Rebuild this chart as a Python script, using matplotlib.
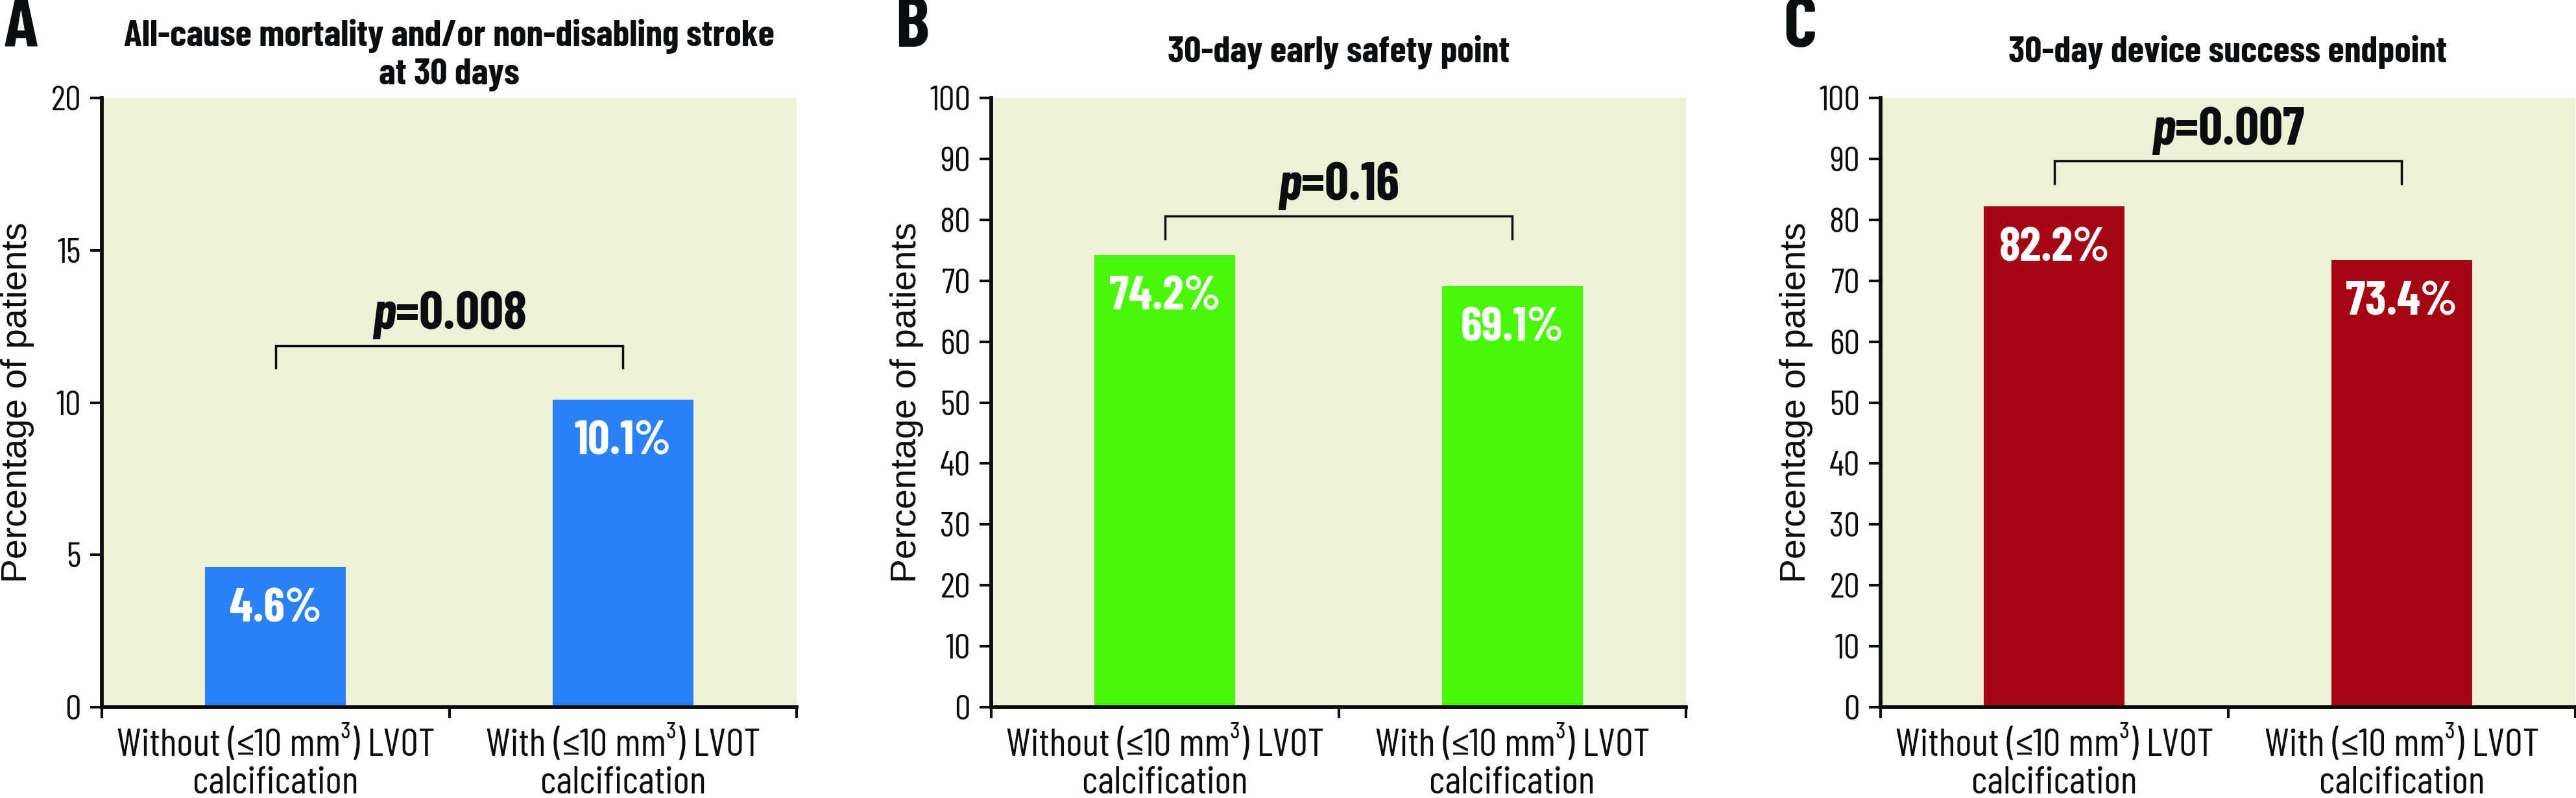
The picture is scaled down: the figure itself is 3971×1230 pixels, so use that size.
import os
import matplotlib
matplotlib.use("Agg")
import matplotlib.pyplot as plt
from matplotlib import font_manager

# ---------------- data ----------------
panel_letters = ["A", "B", "C"]
titles = [
    ["All-cause mortality and/or non-disabling stroke", "at 30 days"],
    ["30-day early safety point"],
    ["30-day device success endpoint"],
]
categories = ["Without (\u226410 mm\u00b3) LVOT\ncalcification",
              "With (\u226410 mm\u00b3) LVOT\ncalcification"]
values_A = [4.6, 10.1]
values_B = [74.2, 69.1]
values_C = [82.2, 73.4]
p_values = ["0.008", "0.16", "0.007"]
y_max = [20, 100, 100]
y_steps = [5, 10, 10]
ylabel = "Percentage of patients"

# ---------------- fonts ----------------
ttf = font_manager.fontManager.ttflist


def _has(fam, weight):
    for f in ttf:
        if f.name == fam and f.style == "normal" and "[" not in os.path.basename(f.fname):
            w = f.weight
            if w == weight or (weight == 700 and w == "bold") or (weight == 400 and w in ("normal", "regular")):
                return True
    return False


COND = None
for fam in ["Barlow Condensed", "Roboto Condensed", "Encode Sans Condensed",
            "PT Sans Narrow", "Archivo Narrow", "Liberation Sans Narrow"]:
    if _has(fam, 400) and _has(fam, 700):
        COND = fam
        break
stretch = "normal"
if COND is None:
    COND = "DejaVu Sans"
    stretch = "condensed"
WIDE = "Liberation Sans"

plt.rcParams["font.family"] = [COND, "DejaVu Sans"]
plt.rcParams["font.stretch"] = stretch
plt.rcParams["mathtext.fontset"] = "custom"
plt.rcParams["mathtext.it"] = f"{COND}:italic:bold"
plt.rcParams["mathtext.rm"] = f"{COND}:bold"

# ---------------- style / layout ----------------
bar_colors = ["#2A80F6", "#48F808", "#A50614"]
bg_color = "#EFF0D8"
ink = "#0B0E10"

W, H = 3971, 1230
fig = plt.figure(figsize=(W / 100, H / 100), dpi=100)
renderer = fig.canvas.get_renderer()


def fit(sample, target_px, **kw):
    t = fig.text(0, 0, sample, fontsize=100, **kw)
    w = t.get_window_extent(renderer).width
    t.remove()
    return 100.0 * target_px / w


fs_cat = fit("Without (\u226410 mm\u00b3) LVOT", 490)
fs_title = fit("30-day early safety point", 527, fontweight="bold")
fs_p = fit(r"$\mathit{p}$=0.008", 236, fontweight="bold")
fs_pct = fit("74.2%", 172, fontweight="bold")
fs_tick = fit("100", 63)
fs_letter = fit("B", 52, fontweight="bold")

ax_lefts = [157, 1528, 2899]
ax_w = 1071
ax_top, ax_bot = 151, 1090
letter_x = [6, 1380, 2749]

# bracket layout (y of horizontal bar, y of leg ends, y of p baseline) in data units
bracket_layout = [(11.86, 11.14, 12.42), (80.6, 76.9, 83.3), (89.7, 85.9, 92.3)]

all_values = [values_A, values_B, values_C]
bar_x = [0.5, 1.5]

for i in range(3):
    ax = fig.add_axes([ax_lefts[i] / W, (H - ax_bot) / H, ax_w / W, (ax_bot - ax_top) / H])
    ax.set_facecolor(bg_color)
    vals = all_values[i]
    ax.bar(bar_x, vals, width=0.405, color=bar_colors[i], zorder=2)
    ax.set_xlim(0, 2)
    ax.set_ylim(0, y_max[i])
    ax.set_yticks(list(range(0, y_max[i] + 1, y_steps[i])))
    for s in ["top", "right"]:
        ax.spines[s].set_visible(False)
    for s in ["left", "bottom"]:
        ax.spines[s].set_linewidth(4.2)
        ax.spines[s].set_color(ink)
    ax.tick_params(axis="y", direction="out", length=13, width=3, pad=10,
                   labelsize=fs_tick, colors=ink)
    ax.set_xticks([0, 1, 2])
    ax.set_xticklabels([])
    ax.tick_params(axis="x", which="major", direction="out", length=12, width=3, colors=ink)
    ax.set_xticks(bar_x, minor=True)
    ax.set_xticklabels(categories, minor=True, fontsize=fs_cat, linespacing=1.08, color=ink)
    ax.tick_params(axis="x", which="minor", length=0, pad=21)

    ax.set_ylabel(ylabel, fontsize=40, family=[WIDE, "DejaVu Sans"], color=ink)
    ax.yaxis.set_label_coords(-0.097, 0.5)

    # value labels inside bars
    for x, v in zip(bar_x, vals):
        ax.annotate(f"{v:.1f}%", xy=(x, v), xytext=(0, -61), textcoords="offset points",
                    ha="center", va="baseline", color="white", fontsize=fs_pct,
                    fontweight="bold", zorder=3)

    # significance bracket
    yb, yl, yp = bracket_layout[i]
    ax.plot([bar_x[0], bar_x[0], bar_x[1], bar_x[1]], [yl, yb, yb, yl],
            color=ink, lw=2.5, solid_joinstyle="miter", zorder=3, clip_on=False)
    ax.text(1.0, yp, r"$\mathit{p}$=" + p_values[i], ha="center", va="baseline",
            fontsize=fs_p, fontweight="bold", color=ink, zorder=3)

    # title
    cx = (ax_lefts[i] + ax_w / 2) / W
    if len(titles[i]) == 2:
        fig.text(cx, 1 - 70 / H, titles[i][0], ha="center", va="baseline",
                 fontsize=fs_title, fontweight="bold", color=ink)
        fig.text(cx, 1 - 130 / H, titles[i][1], ha="center", va="baseline",
                 fontsize=fs_title, fontweight="bold", color=ink)
    else:
        fig.text(cx, 1 - 96 / H, titles[i][0], ha="center", va="baseline",
                 fontsize=fs_title, fontweight="bold", color=ink)

    fig.text(letter_x[i] / W, 1 - 72 / H, panel_letters[i], ha="left", va="baseline",
             fontsize=fs_letter, fontweight="bold", color=ink)

fig.savefig("out.png", dpi=100, facecolor="white")
